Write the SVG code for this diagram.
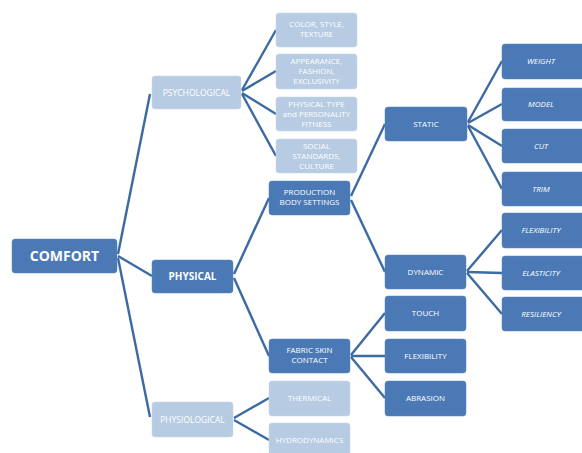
<svg xmlns="http://www.w3.org/2000/svg" width="582" height="453" viewBox="0 0 582 453">
<style>
.d{fill:#4b79b5;stroke:#5a86bd;stroke-width:0.5}
.l{fill:#b7cbe3;stroke:#c5d5ea;stroke-width:0.5}
text{font-family:"Open Sans","Liberation Sans",sans-serif;fill:#fff;text-anchor:middle;font-size:8px}
.i{font-style:italic}
.b{font-weight:bold}
#conn path{fill:none;stroke:#3c6aa3;stroke-width:2.4}
</style>
<rect width="582" height="453" fill="#fff"/>
<g id="conn">
<path d="M118,254 L150,94"/>
<path d="M118,256 L152,276"/>
<path d="M118,258 L150,417"/>
<path d="M242,90 L276,30"/>
<path d="M242,91 L276,71"/>
<path d="M242,93 L276,114"/>
<path d="M242,94 L276,156"/>
<path d="M234,274 L269,198"/>
<path d="M234,278 L269,356"/>
<path d="M234,418 L269,398"/>
<path d="M234,420 L269,440"/>
<path d="M351,196 L385,124"/>
<path d="M351,200 L385,272"/>
<path d="M468,122 L502,61"/>
<path d="M468,123 L502,104"/>
<path d="M468,125 L502,146"/>
<path d="M468,126 L502,189"/>
<path d="M467,271 L502,230"/>
<path d="M467,272 L502,273"/>
<path d="M467,273 L502,314"/>
<path d="M351,355 L385,313"/>
<path d="M351,356 L385,356"/>
<path d="M351,357 L385,398"/>
</g>
<g id="comfort"><rect class="d" x="12" y="239" width="105" height="34" rx="3"/><text class="b" x="64.5" y="261" style="font-size:14px">COMFORT</text></g>
<g id="psychological"><rect class="l" x="152" y="76" width="89" height="33" rx="3"/><text x="196.5" y="95.5" style="font-size:8.5px">PSYCHOLOGICAL</text></g>
<g id="physical"><rect class="d" x="152" y="260" width="81" height="33" rx="3"/><text class="b" x="192.5" y="280" style="font-size:10px">PHYSICAL</text></g>
<g id="physiological"><rect class="l" x="152" y="402" width="81" height="35" rx="3"/><text x="192.5" y="422.5" style="font-size:8.5px">PHYSIOLOGICAL</text></g>
<g id="color"><rect class="l" x="276" y="13" width="81" height="34" rx="3"/><text x="316.5" y="27">COLOR, STYLE,</text><text x="316.5" y="37">TEXTURE</text></g>
<g id="appearance"><rect class="l" x="276" y="54" width="81" height="35" rx="3"/><text x="316.5" y="64">APPEARANCE,</text><text x="316.5" y="74">FASHION,</text><text x="316.5" y="84">EXCLUSIVITY</text></g>
<g id="phystype"><rect class="l" x="276" y="97" width="81" height="34" rx="3"/><text x="316.5" y="107">PHYSICAL TYPE</text><text x="316.5" y="117">and PERSONALITY</text><text x="316.5" y="127">FITNESS</text></g>
<g id="social"><rect class="l" x="276" y="139" width="81" height="34" rx="3"/><text x="316.5" y="149">SOCIAL</text><text x="316.5" y="159">STANDARDS,</text><text x="316.5" y="169">CULTURE</text></g>
<g id="production"><rect class="d" x="269" y="181" width="81" height="34" rx="3"/><text x="309.5" y="195">PRODUCTION</text><text x="309.5" y="205">BODY SETTINGS</text></g>
<g id="fabric"><rect class="d" x="269" y="339" width="81" height="34" rx="3"/><text x="309.5" y="353">FABRIC SKIN</text><text x="309.5" y="363">CONTACT</text></g>
<g id="thermical"><rect class="l" x="269" y="381" width="81" height="35" rx="3"/><text x="309.5" y="401">THERMICAL</text></g>
<g id="hydro"><rect class="l" x="269" y="423" width="81" height="34" rx="3"/><text x="309.5" y="443">HYDRODYNAMICS</text></g>
<g id="static"><rect class="d" x="385" y="107" width="82" height="34" rx="3"/><text x="426" y="127">STATIC</text></g>
<g id="dynamic"><rect class="d" x="385" y="255" width="81" height="34" rx="3"/><text x="425.5" y="275">DYNAMIC</text></g>
<g id="touch"><rect class="d" x="385" y="296" width="81" height="35" rx="3"/><text x="425.5" y="316">TOUCH</text></g>
<g id="flex2"><rect class="d" x="385" y="339" width="81" height="34" rx="3"/><text x="425.5" y="359">FLEXIBILITY</text></g>
<g id="abrasion"><rect class="d" x="385" y="381" width="81" height="35" rx="3"/><text x="425.5" y="401">ABRASION</text></g>
<g id="weight"><rect class="d" x="502" y="44" width="84" height="35" rx="3"/><text class="i" x="541" y="64">WEIGHT</text></g>
<g id="model"><rect class="d" x="502" y="88" width="84" height="33" rx="3"/><text class="i" x="541" y="107">MODEL</text></g>
<g id="cut"><rect class="d" x="502" y="129" width="84" height="34" rx="3"/><text class="i" x="541" y="149">CUT</text></g>
<g id="trim"><rect class="d" x="502" y="172" width="84" height="34" rx="3"/><text class="i" x="541" y="192">TRIM</text></g>
<g id="flex1"><rect class="d" x="502" y="213" width="84" height="35" rx="3"/><text class="i" x="541" y="233">FLEXIBILITY</text></g>
<g id="elast"><rect class="d" x="502" y="256" width="84" height="34" rx="3"/><text class="i" x="541" y="276">ELASTICITY</text></g>
<g id="resil"><rect class="d" x="502" y="297" width="84" height="34" rx="3"/><text class="i" x="541" y="317">RESILIENCY</text></g>
</svg>
